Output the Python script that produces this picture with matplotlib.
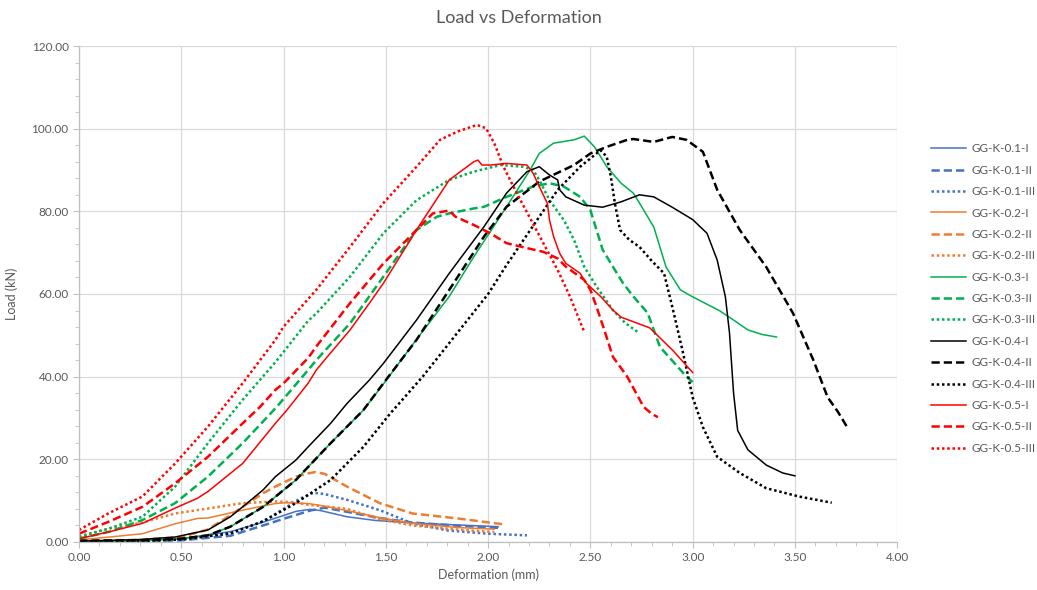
import matplotlib
matplotlib.use("Agg")
import matplotlib.pyplot as plt
from matplotlib.ticker import MultipleLocator, FormatStrFormatter

plt.rcParams["font.family"] = ["Lato", "DejaVu Sans"]

# data (deformation mm, load kN)
x01_1 = [0, 0.3, 0.5, 0.74, 0.9, 1.0, 1.06, 1.13, 1.18, 1.25, 1.31, 1.45, 1.63, 1.86, 2.05]
y01_1 = [0, 0.3, 0.8, 2.5, 4.8, 6.4, 7.4, 7.9, 7.6, 6.8, 6.1, 5.2, 4.6, 4.1, 3.7]
x01_2 = [0, 0.5, 0.74, 0.9, 1.0, 1.13, 1.2, 1.31, 1.47, 1.63, 1.86, 2.05]
y01_2 = [0, 0.4, 1.5, 4.0, 5.6, 7.6, 8.3, 7.3, 5.8, 4.7, 3.9, 3.4]
x01_3 = [0, 0.5, 0.74, 0.9, 1.0, 1.08, 1.146, 1.2, 1.31, 1.47, 1.63, 1.8, 2.0, 2.19]
y01_3 = [0, 0.6, 2.0, 5.0, 8.0, 10.5, 11.9, 11.6, 10.2, 7.7, 4.5, 2.8, 2.0, 1.6]

x02_1 = [0, 0.15, 0.31, 0.47, 0.58, 0.63, 0.80, 0.96, 1.01, 1.12, 1.2, 1.31, 1.47, 1.63, 1.85, 2.03]
y02_1 = [0.5, 1.2, 2.0, 4.4, 5.7, 5.8, 7.7, 9.3, 9.5, 9.3, 8.7, 7.6, 5.9, 4.5, 3.5, 3.1]
x02_2 = [0, 0.3, 0.5, 0.63, 0.74, 0.80, 0.90, 0.96, 1.06, 1.12, 1.154, 1.2, 1.31, 1.47, 1.63, 1.85, 2.07]
y02_2 = [0.3, 0.5, 1.2, 3.0, 6.5, 8.5, 11.8, 13.4, 15.8, 16.6, 16.9, 16.5, 13.4, 9.4, 6.9, 5.7, 4.3]
x02_3 = [0, 0.15, 0.31, 0.47, 0.63, 0.80, 0.96, 1.05, 1.12, 1.2, 1.31, 1.47, 1.63, 1.85, 2.03]
y02_3 = [1.3, 3.3, 4.7, 6.9, 8.1, 9.4, 9.8, 9.6, 9.0, 8.6, 8.0, 5.5, 4.0, 3.0, 2.4]

x03_1 = [0, 0.3, 0.5, 0.63, 0.74, 0.90, 1.06, 1.23, 1.39, 1.50, 1.65, 1.81, 1.93, 2.09, 2.205,
         2.25, 2.32, 2.42, 2.47, 2.52, 2.58, 2.65, 2.71, 2.74, 2.81, 2.87, 2.94, 3.0, 3.13,
         3.2, 3.27, 3.34, 3.41]
y03_1 = [0, 0.3, 0.8, 1.6, 3.7, 8.5, 15, 23.9, 31.9, 39, 49, 59.4, 69, 81.1, 90,
         94, 96.5, 97.3, 98.2, 95.6, 90.8, 86.8, 84.4, 82, 76.2, 66.5, 61, 59.3, 56,
         53.7, 51.3, 50.2, 49.6]
x03_2 = [0, 0.15, 0.31, 0.47, 0.63, 0.80, 0.967, 1.12, 1.16, 1.325, 1.488, 1.65, 1.75, 1.81,
         1.93, 1.98, 2.09, 2.22, 2.30, 2.37, 2.45, 2.50, 2.53, 2.56, 2.61, 2.66, 2.71, 2.78,
         2.84, 2.97, 3.0]
y03_2 = [0.8, 2.5, 5.3, 9.4, 15.8, 23.9, 32.7, 41.6, 44, 52.9, 64.2, 75.5, 78.7, 79.5,
         80.7, 81.1, 83.5, 86, 86.8, 86, 83.5, 80.3, 75.5, 70.7, 66.6, 62.6, 59.4, 55.4,
         47.2, 40, 38.7]
x03_3 = [0, 0.15, 0.31, 0.47, 0.63, 0.80, 0.96, 1.0, 1.12, 1.16, 1.325, 1.488, 1.65, 1.81,
         1.93, 2.06, 2.17, 2.22, 2.25, 2.30, 2.37, 2.42, 2.47, 2.53, 2.61, 2.67, 2.74]
y03_3 = [1.3, 3.3, 6.1, 13.4, 23.9, 34.4, 43.5, 46, 53.5, 55.3, 64.2, 74.7, 82.7, 87.6,
         89.6, 91.2, 90.8, 90, 87.6, 82.7, 77.9, 73.1, 66.6, 61.8, 56.1, 53, 50.5]

x04_1 = [0, 0.3, 0.47, 0.63, 0.74, 0.80, 0.90, 0.96, 1.06, 1.12, 1.23, 1.31, 1.42, 1.488,
         1.65, 1.81, 1.98, 2.09, 2.19, 2.25, 2.30, 2.34, 2.35, 2.38, 2.47, 2.56, 2.65, 2.74,
         2.81, 2.90, 3.0, 3.07, 3.12, 3.16, 3.18, 3.2, 3.22, 3.27, 3.36, 3.44, 3.5]
y04_1 = [0.2, 0.6, 1.2, 2.9, 6.1, 8.5, 12.6, 15.8, 19.8, 23, 28.7, 33.5, 39.2, 43.2,
         53.7, 65, 76.3, 84.4, 89.6, 90.8, 88.8, 87.6, 85.2, 83.5, 81.5, 81, 82.3, 84,
         83.5, 81, 78, 74.7, 68.2, 59.3, 50.6, 36, 27, 22.3, 18.6, 16.7, 16]
x04_2 = [0, 0.3, 0.5, 0.63, 0.74, 0.90, 1.06, 1.23, 1.39, 1.488, 1.65, 1.81, 1.98, 2.09,
         2.25, 2.42, 2.50, 2.58, 2.68, 2.71, 2.81, 2.90, 2.97, 3.05, 3.12, 3.23, 3.36, 3.49,
         3.59, 3.66, 3.71, 3.76]
y04_2 = [0.3, 0.4, 0.8, 1.6, 3.7, 8.5, 15, 23.9, 31.9, 38.4, 48.9, 61, 73.9, 81.1,
         87.2, 91.2, 94, 95.6, 97.3, 97.5, 96.8, 98, 97.3, 94.4, 85.2, 75.5, 66.5, 55.4,
         44, 35, 31.5, 27.4]
x04_3 = [0, 0.3, 0.5, 0.74, 0.90, 1.06, 1.23, 1.39, 1.52, 1.68, 1.84, 2.0, 2.09, 2.22,
         2.34, 2.45, 2.55, 2.58, 2.60, 2.62, 2.645, 2.69, 2.74, 2.80, 2.86, 2.90, 2.95, 3.0,
         3.05, 3.12, 3.23, 3.36, 3.52, 3.68]
y04_3 = [0, 0.2, 0.6, 2.1, 5.0, 9.4, 15, 23, 31, 40, 50, 60, 67, 76.5,
         85.2, 90.8, 94.8, 93.2, 88.4, 81.9, 75.5, 73.1, 71.4, 68, 65, 57, 46.4, 35,
         27.8, 20.6, 16.7, 13, 11, 9.5]

x05_1 = [0, 0.15, 0.31, 0.47, 0.58, 0.63, 0.80, 0.96, 1.016, 1.12, 1.16, 1.20, 1.325, 1.42,
         1.488, 1.65, 1.81, 1.93, 1.95, 1.97, 2.01, 2.09, 2.19, 2.22, 2.25, 2.29, 2.30, 2.32,
         2.35, 2.38, 2.45, 2.48, 2.55, 2.61, 2.65, 2.79, 2.9, 3.0]
y05_1 = [0.8, 2.5, 4.5, 8.2, 10.6, 12.2, 19, 28.7, 31.9, 38.4, 41.6, 44, 51.3, 57.8,
         62.6, 75.5, 87.6, 92, 92.4, 91.2, 91.2, 91.6, 91.2, 89.2, 86, 81.9, 77.9, 73.9,
         69.8, 67.4, 65, 62.6, 59.4, 56.1, 54.4, 51.8, 46.5, 41]
x05_2 = [0, 0.15, 0.31, 0.47, 0.63, 0.80, 0.885, 0.96, 1.0, 1.12, 1.16, 1.325, 1.488, 1.65,
         1.73, 1.81, 1.84, 1.93, 2.01, 2.09, 2.19, 2.27, 2.34, 2.38, 2.47, 2.50, 2.53, 2.57,
         2.61, 2.68, 2.76, 2.80, 2.83]
y05_2 = [2, 5, 8.5, 14.2, 20.6, 28.7, 32.7, 36.8, 38.4, 44.5, 47.3, 57.8, 67.4, 75.5,
         79.5, 80.2, 78.7, 76.7, 74.7, 72.3, 71.1, 70.2, 68.6, 66.6, 63.4, 61, 56.9, 51,
         44.8, 40, 32.7, 31, 30.2]
x05_3 = [0, 0.143, 0.31, 0.47, 0.63, 0.80, 0.96, 1.0, 1.16, 1.325, 1.488, 1.65, 1.765, 1.85,
         1.945, 1.99, 2.03, 2.075, 2.14, 2.21, 2.27, 2.34, 2.40, 2.47]
y05_3 = [2.9, 6.9, 11, 19, 27.9, 38.4, 48.9, 52.1, 61, 71.4, 82, 90.8, 97.3, 99.3,
         100.9, 100.1, 96.5, 90.8, 84.4, 77.9, 72.3, 65.8, 59.4, 50.8]

series = [
    (x01_1, y01_1, "GG-K-0.1-I"), (x01_2, y01_2, "GG-K-0.1-II"), (x01_3, y01_3, "GG-K-0.1-III"),
    (x02_1, y02_1, "GG-K-0.2-I"), (x02_2, y02_2, "GG-K-0.2-II"), (x02_3, y02_3, "GG-K-0.2-III"),
    (x03_1, y03_1, "GG-K-0.3-I"), (x03_2, y03_2, "GG-K-0.3-II"), (x03_3, y03_3, "GG-K-0.3-III"),
    (x04_1, y04_1, "GG-K-0.4-I"), (x04_2, y04_2, "GG-K-0.4-II"), (x04_3, y04_3, "GG-K-0.4-III"),
    (x05_1, y05_1, "GG-K-0.5-I"), (x05_2, y05_2, "GG-K-0.5-II"), (x05_3, y05_3, "GG-K-0.5-III"),
]
colors = ["#4472C4", "#ED7D31", "#00B050", "#000000", "#FF0000"]
styles = [("-", 1.1), ((0, (3.3, 1.6)), 1.8), ((0, (1, 1.1)), 1.8)]

fig = plt.figure(figsize=(10.37, 5.90), dpi=100)
ax = fig.add_axes([0.0762, 0.0814, 0.789, 0.8406])

for i, (xs, ys, lab) in enumerate(series):
    ls, lw = styles[i % 3]
    ax.plot(xs, ys, color=colors[i // 3], linestyle=ls, linewidth=lw, label=lab)

ax.set_xlim(0, 4)
ax.set_ylim(0, 120)
ax.xaxis.set_major_locator(MultipleLocator(0.5))
ax.xaxis.set_minor_locator(MultipleLocator(0.1))
ax.yaxis.set_major_locator(MultipleLocator(20))
ax.yaxis.set_minor_locator(MultipleLocator(4))
ax.xaxis.set_major_formatter(FormatStrFormatter("%.2f"))
ax.yaxis.set_major_formatter(FormatStrFormatter("%.2f"))
ax.grid(True, which="major", color="#D9D9D9", linewidth=0.9)
ax.set_axisbelow(True)
for s in ["top", "right"]:
    ax.spines[s].set_visible(False)
for s in ["left", "bottom"]:
    ax.spines[s].set_color("#BFBFBF")
    ax.spines[s].set_linewidth(0.9)
ax.tick_params(which="both", colors="#BFBFBF", labelcolor="#595959", labelsize=8.5)
ax.tick_params(which="major", length=4)
ax.tick_params(which="minor", length=3)

ax.set_xlabel("Deformation (mm)", fontsize=9, color="#595959", labelpad=4)
ax.set_ylabel("Load (kN)", fontsize=9, color="#595959", labelpad=10)
fig.text(0.5, 0.97, "Load vs Deformation", ha="center", va="center", fontsize=13, color="#595959")

fig.legend(loc="upper left", bbox_to_anchor=(0.893, 0.765), frameon=False, fontsize=8.5,
           labelcolor="#595959", handlelength=3.0, handletextpad=0.45, labelspacing=0.88,
           borderaxespad=0)

fig.savefig("out.png", dpi=100)
